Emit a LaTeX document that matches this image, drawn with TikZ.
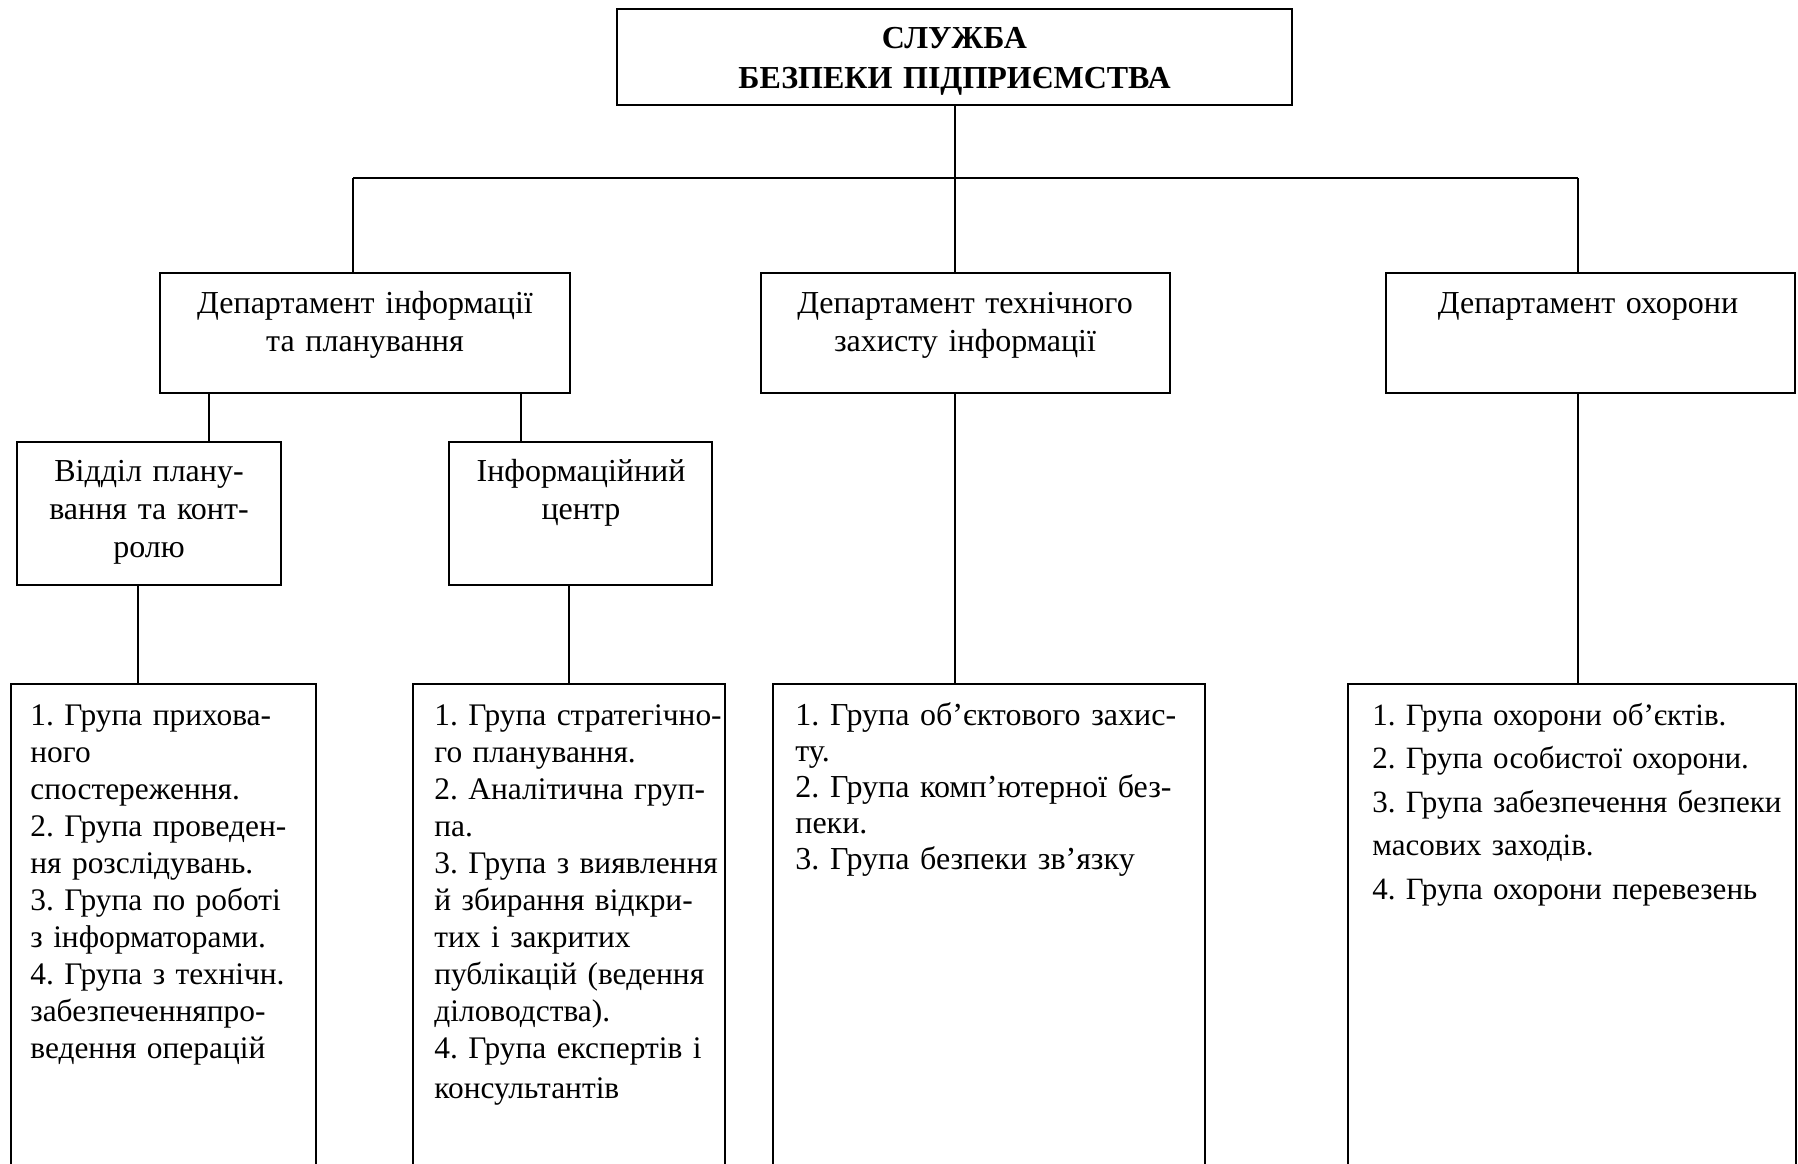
\documentclass[tikz,border=0pt]{standalone}
\usepackage{fontspec}
\setmainfont{Liberation Serif}
\frenchspacing
\begin{document}
\begin{tikzpicture}[x=0.5pt,y=-0.5pt,
  box/.style={draw, line width=1pt, inner sep=0pt},
  conn/.style={line width=1pt},
  ttl/.style={inner sep=0pt, text width=330pt, align=center, font=\fontsize{16pt}{20pt}\selectfont\bfseries},
  ctext/.style={inner sep=0pt, text width=200pt, align=center, font=\fontsize{16pt}{19pt}\selectfont},
  ltext/.style={inner sep=0pt, text width=220pt, align=left, font=\fontsize{15.7pt}{18.5pt}\selectfont}]
\useasboundingbox (0,0) rectangle (1798,1163);
\clip (0,0) rectangle (1798,1163);
% boxes
\node[box, minimum width=337.5pt, minimum height=48pt] (top) at (954.5,57) {};
\node[box, minimum width=205pt, minimum height=60pt] (d1) at (365,333) {};
\node[box, minimum width=204.5pt, minimum height=60pt] (d2) at (965.5,333) {};
\node[box, minimum width=204.5pt, minimum height=60pt] (d3) at (1590.5,333) {};
\node[box, minimum width=132pt, minimum height=71.5pt] (s1) at (149,513.5) {};
\node[box, minimum width=131.5pt, minimum height=71.5pt] (s2) at (580.5,513.5) {};
\node[box, minimum width=152.5pt, minimum height=258pt] (b1) at (163.5,942) {};
\node[box, minimum width=156pt, minimum height=258pt] (b2) at (569,942) {};
\node[box, minimum width=216pt, minimum height=258pt] (b3) at (989,942) {};
\node[box, minimum width=224pt, minimum height=258pt] (b4) at (1572,942) {};
% texts
\node[ttl, anchor=base] (topt) at (954.5,48) {СЛУЖБА\\БЕЗПЕКИ ПІДПРИЄМСТВА};
\node[ctext, anchor=base] (d1t) at (365,313) {Департамент інформації\\та планування};
\node[ctext, anchor=base] (d2t) at (965,313) {Департамент технічного\\захисту інформації};
\node[ctext, anchor=base] (d3t) at (1588,313) {Департамент охорони};
\node[ctext, text width=130pt, anchor=base] (s1t) at (149,481) {Відділ плану-\\вання та конт-\\ролю};
\node[ctext, text width=130pt, anchor=base] (s2t) at (581,481) {Інформаційний\\центр};
\node[ltext, anchor=base west] (b1t) at (30,725) {1. Група прихова-\\ного\\спостереження.\\2. Група проведен-\\ня розслідувань.\\3. Група по роботі\\з інформаторами.\\4. Група з технічн.\\забезпеченняпро-\\ведення операцій};
\node[ltext, anchor=base west] (b2t) at (434,725) {1. Група стратегічно-\\го планування.\\2. Аналітична груп-\\па.\\3. Група з виявлення\\й збирання відкри-\\тих і закритих\\публікацій (ведення\\діловодства).\\4. Група експертів і\\[1.5pt]консультантів};
\node[ltext, anchor=base west, font=\fontsize{16pt}{18pt}\selectfont] (b3t) at (795,725) {1. Група об’єктового захис-\\ту.\\2. Група комп’ютерної без-\\пеки.\\3. Група безпеки зв’язку};
\node[ltext, anchor=base west, font=\fontsize{15.5pt}{21.8pt}\selectfont] (b4t) at (1372,725) {1. Група охорони об’єктів.\\2. Група особистої охорони.\\3. Група забезпечення безпеки\\масових заходів.\\4. Група охорони перевезень};
% connectors
\coordinate (hl) at (353,178);
\coordinate (hr) at (1578,178);
\draw[conn] (hl) -- (hr);
\draw[conn] (top.south) -- (top.south |- d2.north);
\draw[conn] (hl) -- (hl |- d1.north);
\draw[conn] (hr) -- (hr |- d3.north);
\coordinate (k1) at ([xshift=-78pt]d1.south);
\coordinate (k2) at ([xshift=78pt]d1.south);
\coordinate (k3) at ([xshift=-5.5pt]s1.south);
\draw[conn] (k1) -- (k1 |- s1.north);
\draw[conn] (k2) -- (k2 |- s2.north);
\draw[conn] (k3) -- (k3 |- b1.north);
\draw[conn] (b2.north) -- (b2.north |- s2.south);
\draw[conn] (top.south |- d2.south) -- (top.south |- b3.north);
\draw[conn] (hr |- d3.south) -- (hr |- b4.north);
\end{tikzpicture}
\end{document}
